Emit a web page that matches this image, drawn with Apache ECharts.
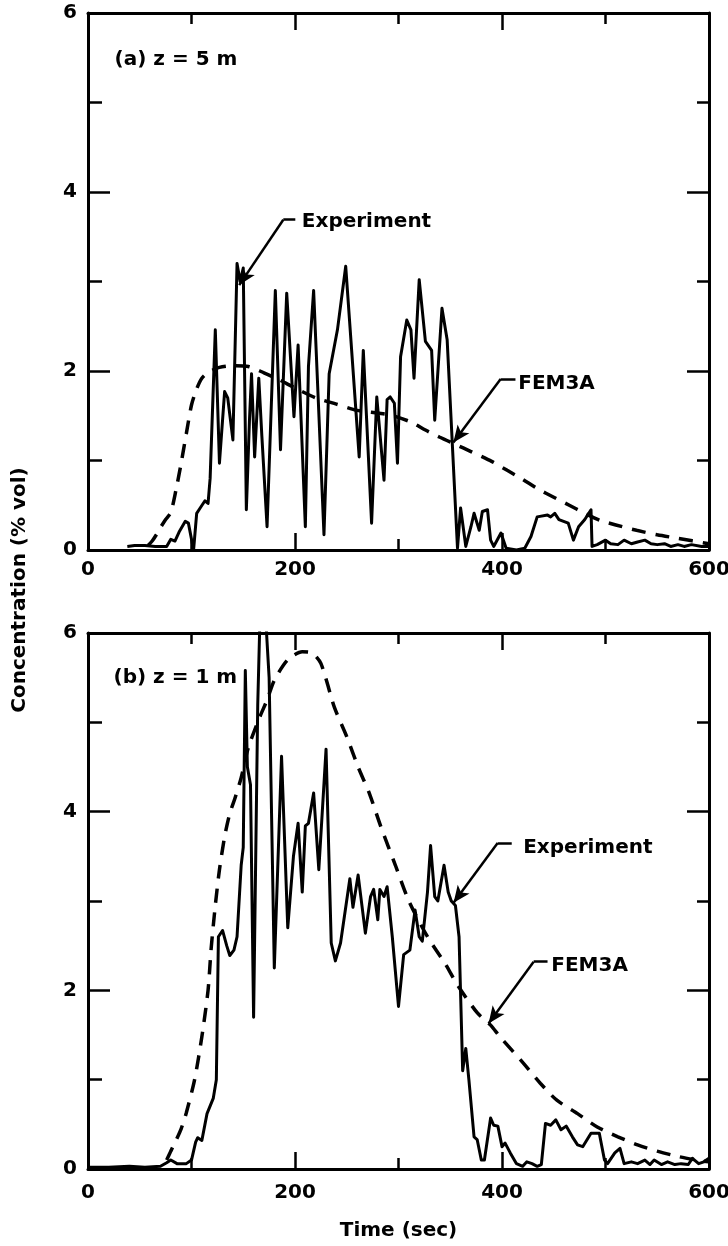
<!DOCTYPE html>
<html><head><meta charset="utf-8">
<script src="https://cdn.jsdelivr.net/npm/echarts@6/dist/echarts.min.js"></script>
<style>html,body{margin:0;padding:0;background:#fff}#c{width:728px;height:1246px}</style>
</head><body><div id="c"></div>
<script>
const FONT = '"DejaVu Sans", "Liberation Sans", sans-serif';

// ---- Panel (a) z = 5 m ----
const topExpT = [38,45,55,65,76,80,84,88,94,97,102,105,109,113,116,118,123,127,132,135,140,144,147,150,153,156,158,161,165,168,173,181,186,192,199,203,210,213,218,228,233,241,249,262,266,274,279,286,289,292,296,299,302,308,312,315,320,326,332,335,342,347,357,360,365,370,373,378,381,386,389,392,399,404,414,422,428,434,444,447,451,455,464,469,474,480,486,487,492,500,505,512,518,525,531,538,544,550,557,563,570,576,583,593,600];
const topExpV = [0.04,0.05,0.05,0.04,0.04,0.12,0.1,0.2,0.32,0.3,0.0,0.41,0.48,0.55,0.52,0.8,2.46,0.97,1.77,1.7,1.23,3.2,3.0,3.15,0.45,1.45,1.97,1.04,1.92,1.27,0.26,2.9,1.12,2.87,1.49,2.29,0.26,2.05,2.9,0.17,1.97,2.46,3.17,1.04,2.23,0.3,1.71,0.78,1.68,1.71,1.64,0.97,2.16,2.57,2.46,1.92,3.02,2.33,2.23,1.45,2.7,2.35,0.02,0.47,0.04,0.26,0.41,0.22,0.43,0.45,0.11,0.04,0.19,0.02,0.0,0.02,0.15,0.37,0.39,0.37,0.41,0.34,0.30,0.11,0.26,0.34,0.45,0.04,0.06,0.11,0.07,0.06,0.11,0.07,0.09,0.11,0.07,0.06,0.07,0.04,0.06,0.04,0.06,0.04,0.04];
const topFemT = [58,62,66,70,75,80,85,90,95,100,105,110,117,127,140,155,170,185,200,220,240,260,280,292,312,326,340,355,370,390,405,420,435,450,465,480,495,510,530,550,570,600];
const topFemV = [0.05,0.1,0.17,0.25,0.34,0.42,0.67,0.97,1.3,1.62,1.8,1.92,1.99,2.04,2.06,2.05,1.98,1.9,1.81,1.7,1.63,1.56,1.53,1.51,1.43,1.34,1.26,1.18,1.1,0.99,0.89,0.79,0.68,0.59,0.5,0.41,0.33,0.28,0.22,0.17,0.13,0.07];

// ---- Panel (b) z = 1 m ----
const botExpT = [0,20,40,55,70,76,80,86,95,100,104,106,110,115,121,124,126,130,134,137,141,144,148,150,152,154,157,160,164,166,172,175,180,187,193,198.5,203,207,210,213,218,223,230,235,239,244,253,256,261,268,273,276,280,282,286,289,294,300,305,311,316,320,323,328,331,335,338,344,348,351,355,358.5,362,365,368,373,376,380,383,389,392,396,400,403,408,414,420,424,429,434,438,442,447,452,457,462,468,473,478,486,494,499,502,509,514,518,525,531,538,543,547,554,560,567,573,580,584,590,595,600];
const botExpV = [0.02,0.02,0.03,0.02,0.03,0.07,0.1,0.06,0.06,0.1,0.3,0.35,0.32,0.62,0.79,1.0,2.6,2.67,2.5,2.39,2.45,2.6,3.4,3.6,5.58,4.5,4.3,1.7,5.2,6.1,6.1,5.5,2.25,4.62,2.7,3.5,3.87,3.1,3.84,3.87,4.21,3.35,4.7,2.53,2.33,2.53,3.25,2.93,3.29,2.64,3.05,3.13,2.79,3.13,3.05,3.16,2.6,1.82,2.4,2.45,2.9,2.6,2.55,3.1,3.62,3.05,3.0,3.4,3.1,3.0,2.95,2.6,1.1,1.35,1.0,0.36,0.33,0.1,0.1,0.57,0.49,0.48,0.25,0.29,0.18,0.06,0.03,0.08,0.06,0.03,0.05,0.51,0.49,0.55,0.44,0.48,0.36,0.27,0.25,0.4,0.4,0.1,0.06,0.18,0.23,0.06,0.08,0.06,0.1,0.05,0.1,0.05,0.08,0.05,0.06,0.05,0.12,0.06,0.08,0.12];
const botFemT = [76,80,85,90,95,103,110,116,119,123,127,132,137,142,148,155,166,173,180,193,207,216,225,238,250,261,272,283,297,310,328,345,357,376,389,398,421,437,453,473,492,512,531,550,570,593,600];
const botFemV = [0.1,0.2,0.32,0.45,0.63,1.0,1.48,2.0,2.47,2.95,3.35,3.72,3.98,4.15,4.38,4.72,5.06,5.25,5.47,5.7,5.79,5.78,5.66,5.17,4.84,4.5,4.2,3.83,3.4,3.0,2.6,2.3,2.06,1.75,1.61,1.48,1.18,0.96,0.77,0.62,0.47,0.36,0.27,0.2,0.14,0.09,0.08];

// ---- axis ranges / ticks ----
const xRange = [0, 600], xStep = 200;
const yRange = [0, 6], yStep = 2;

// ---- annotations (data coordinates) ----
const topLeaders = { expStub: [[200.3,3.69],[188.7,3.69]], expArrow: [[188.7,3.69],[146.1,2.96]],
                     femStub: [[413,1.91],[398.7,1.91]], femArrow: [[398.7,1.91],[353,1.2]] };
const botLeaders = { expStub: [[409.4,3.65],[395.8,3.65]], expArrow: [[395.8,3.65],[353.2,2.98]],
                     femStub: [[444,2.32],[430.6,2.32]], femArrow: [[430.6,2.32],[387,1.63]] };
const topTexts = [['(a) z = 5 m', 25.2, 5.475], ['Experiment', 206.1, 3.665], ['FEM3A', 415.2, 1.855]];
const botTexts = [['(b) z = 1 m', 24.2, 5.50], ['Experiment', 420, 3.60], ['FEM3A', 447.1, 2.27]];

function zip(a, b) { return a.map((t, i) => [t, b[i]]); }

const labelFont = { color: '#000', fontFamily: FONT, fontWeight: 'bold', fontSize: 20 };
const black = { color: '#000' };

function xAxis(g, pos, showLabel, extra) {
  return Object.assign({
    type: 'value', gridIndex: g, min: xRange[0], max: xRange[1], interval: xStep, position: pos,
    axisLine: { show: true, onZero: false, lineStyle: { color: '#000', width: 3 } },
    axisTick: { show: true, inside: true, length: 17, lineStyle: { color: '#000', width: 2.5 } },
    minorTick: { show: true, splitNumber: 2, length: 11, lineStyle: { color: '#000', width: 2.5 } },
    axisLabel: Object.assign({ show: showLabel, margin: g === 0 ? 10 : 14 }, labelFont),
    splitLine: { show: false }, minorSplitLine: { show: false }
  }, extra || {});
}
function yAxis(g, pos, showLabel) {
  return {
    type: 'value', gridIndex: g, min: yRange[0], max: yRange[1], interval: yStep, position: pos,
    axisLine: { show: true, onZero: false, lineStyle: { color: '#000', width: 3 } },
    axisTick: { show: true, inside: true, length: 22, lineStyle: { color: '#000', width: 2.5 } },
    minorTick: { show: true, splitNumber: 2, length: pos === 'left' ? 14 : 12, lineStyle: { color: '#000', width: 2.5 } },
    axisLabel: Object.assign({ show: showLabel, margin: 11 }, labelFont),
    splitLine: { show: false }, minorSplitLine: { show: false }
  };
}

function leaderLines(L) {
  const seg = (p, arrow) => [{ coord: p[0], symbol: 'none' }, { coord: p[1], symbol: arrow ? 'arrow' : 'none', symbolSize: [11, 17] }];
  return {
    silent: true, animation: false, symbol: ['none', 'none'],
    label: { show: false }, emphasis: { disabled: true },
    lineStyle: { color: '#000', width: 2.5, type: 'solid' },
    data: [seg(L.expStub, false), seg(L.expArrow, true), seg(L.femStub, false), seg(L.femArrow, true)]
  };
}
function textPoints(T) {
  return {
    silent: true, animation: false,
    data: T.map(([txt, t, v]) => ({
      coord: [t, v], symbol: 'circle', symbolSize: 1, itemStyle: { color: 'rgba(0,0,0,0)' },
      label: Object.assign({ show: true, position: 'right', distance: 0, formatter: txt }, labelFont)
    }))
  };
}

function expSeries(g, data, L, T) {
  return {
    type: 'line', xAxisIndex: g * 2, yAxisIndex: g * 2, data: data, symbol: 'none', showSymbol: false,
    clip: true, z: 3, lineStyle: { color: '#000', width: 3, join: 'round' },
    markLine: leaderLines(L), markPoint: textPoints(T)
  };
}
function femSeries(g, data) {
  return {
    type: 'line', xAxisIndex: g * 2, yAxisIndex: g * 2, data: data, symbol: 'none', showSymbol: false,
    smooth: 0.25, clip: true, z: 2, lineStyle: { color: '#000', width: 3.5, type: [14, 10] }
  };
}

const chart = echarts.init(document.getElementById('c'), null, { renderer: 'canvas' });
chart.setOption({
  animation: false,
  backgroundColor: '#fff',
  grid: [
    { left: 88, top: 13, width: 621, height: 537, containLabel: false, outerBoundsMode: 'none' },
    { left: 88, top: 633, width: 621, height: 536, containLabel: false, outerBoundsMode: 'none' }
  ],
  xAxis: [
    xAxis(0, 'bottom', true), xAxis(0, 'top', false),
    xAxis(1, 'bottom', true, { name: 'Time (sec)', nameLocation: 'middle', nameGap: 52,
      nameTextStyle: labelFont }), xAxis(1, 'top', false)
  ],
  yAxis: [ yAxis(0, 'left', true), yAxis(0, 'right', false), yAxis(1, 'left', true), yAxis(1, 'right', false) ],
  series: [
    expSeries(0, zip(topExpT, topExpV), topLeaders, topTexts),
    femSeries(0, zip(topFemT, topFemV)),
    expSeries(1, zip(botExpT, botExpV), botLeaders, botTexts),
    femSeries(1, zip(botFemT, botFemV))
  ],
  graphic: [{
    type: 'text', x: 20, y: 590, rotation: Math.PI / 2,
    style: { text: 'Concentration (% vol)', fill: '#000', fontFamily: FONT, fontWeight: 'bold', fontSize: 20,
      align: 'center', verticalAlign: 'middle' }
  }]
});
</script>
</body></html>
